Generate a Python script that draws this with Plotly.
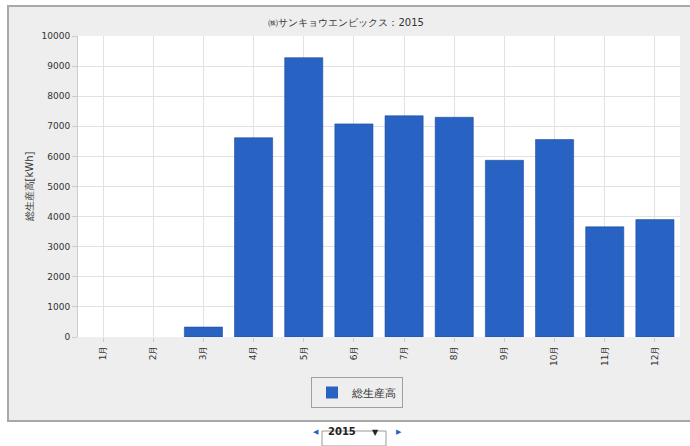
import plotly.graph_objects as go

months = ["1月", "2月", "3月", "4月", "5月", "6月", "7月", "8月", "9月", "10月", "11月", "12月"]
production = [0, 0, 330, 6620, 9280, 7080, 7350, 7300, 5870, 6560, 3660, 3900]
series_name = "総生産高"
title_text = "㈱サンキョウエンビックス：2015"
y_title = "総生産高[kWh]"
y_ticks = [0, 1000, 2000, 3000, 4000, 5000, 6000, 7000, 8000, 9000, 10000]
y_tick_labels = ["0", "1000", "2000", "3000", "4000", "5000", "6000", "7000", "8000", "9000", "10000"]

W, H = 690, 446
L, R, T, B = 78, 10, 36, 109
pw, ph = W - L - R, H - T - B


def px(x):
    return (x - L) / pw


def py(y):
    return (H - B - y) / ph


font = "DejaVu Sans, Verdana, sans-serif"

fig = go.Figure()
fig.add_trace(go.Bar(
    x=months, y=production, name=series_name,
    marker=dict(color="#2862c2",
                line=dict(color="#1f4f9f", width=[0.6 if v > 0 else 0 for v in production])),
    showlegend=True,
))

white = dict(type="rect", xref="paper", yref="paper", fillcolor="#ffffff", line=dict(width=0), layer="below")
shapes = [
    dict(white, x0=px(0), x1=px(700), y0=py(450), y1=py(421)),
    dict(white, x0=px(0), x1=px(8), y0=py(450), y1=py(-5)),
    dict(white, x0=px(0), x1=px(700), y0=py(6), y1=py(-5)),
    dict(type="rect", xref="paper", yref="paper", x0=px(8), x1=px(700), y0=py(421), y1=py(6),
         fillcolor="rgba(0,0,0,0)", line=dict(color="#a8a8a8", width=2), layer="below"),
    dict(type="rect", xref="paper", yref="paper", x0=px(322), x1=px(386), y0=py(446), y1=py(431),
         fillcolor="#ffffff", line=dict(color="#9a9a9a", width=1)),
]

annotations = [
    dict(text="◀", xref="paper", yref="paper", x=px(316), y=py(438), showarrow=False,
         font=dict(size=7, color="#2862c2", family=font)),
    dict(text="▶", xref="paper", yref="paper", x=px(399), y=py(438), showarrow=False,
         font=dict(size=7, color="#2862c2", family=font)),
    dict(text="<b>2015</b>", xref="paper", yref="paper", x=px(326), y=py(439), xanchor="left",
         showarrow=False, font=dict(size=10, color="#222222", family=font)),
    dict(text="▼", xref="paper", yref="paper", x=px(375), y=py(439), showarrow=False,
         font=dict(size=8, color="#222222", family=font)),
]

fig.update_layout(
    width=W, height=H,
    margin=dict(l=L, r=R, t=T, b=B, autoexpand=False),
    paper_bgcolor="#eeeeee",
    plot_bgcolor="#ffffff",
    title=dict(text=title_text, x=px(380), xanchor="center", y=1 - 22 / H, yanchor="middle",
               font=dict(size=10, color="#333333", family=font)),
    bargap=0.24,
    xaxis=dict(
        type="category", tickangle=-90, showgrid=True, gridcolor="#e2e2e2",
        tickfont=dict(size=9, color="#333333", family=font),
        ticks="outside", ticklen=4, tickcolor="#cccccc", showline=False,
        zeroline=False,
    ),
    yaxis=dict(
        range=[0, 10000], tickvals=y_ticks, ticktext=y_tick_labels, showgrid=True, gridcolor="#e2e2e2",
        tickfont=dict(size=9, color="#333333", family=font),
        ticks="outside", ticklen=5, tickcolor="#cccccc",
        title=dict(text=y_title, font=dict(size=10, color="#333333", family=font), standoff=6),
        zeroline=False, showline=True, linecolor="#cccccc",
    ),
    legend=dict(
        x=px(357), xanchor="center", y=py(377), yanchor="top", orientation="h",
        bgcolor="#eeeeee", bordercolor="#a0a0a0", borderwidth=1,
        font=dict(size=11, color="#333333", family=font),
        itemwidth=30,
    ),
    shapes=shapes,
    annotations=annotations,
)

fig.write_html("out.html")
